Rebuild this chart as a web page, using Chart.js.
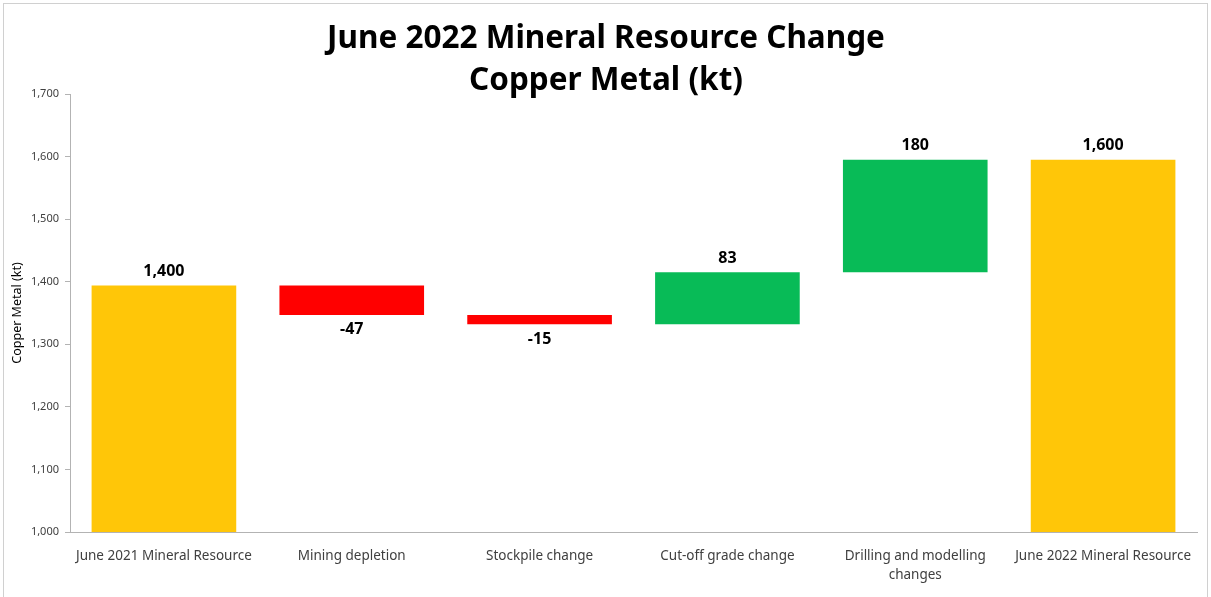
<!DOCTYPE html>
<html>
<head>
<meta charset="utf-8">
<script src="https://cdn.jsdelivr.net/npm/chart.js@4.4.0/dist/chart.umd.min.js"></script>
<style>
  html, body { margin: 0; padding: 0; background: #fff; }
  #wrap { width: 1211px; height: 597px; position: relative; }
</style>
</head>
<body>
<div id="wrap"><canvas id="grafico" width="1211" height="597"></canvas></div>
<script>
// datos del gráfico
const categorias = [
  'June 2021 Mineral Resource',
  'Mining depletion',
  'Stockpile change',
  'Cut-off grade change',
  ['Drilling and modelling', 'changes'],
  'June 2022 Mineral Resource'
];
const inicio = 1394;
const cambios = [-47, -15, 83, 180];
const etiquetas = ['1,400', '-47', '-15', '83', '180', '1,600'];
const ticksY = [1000, 1100, 1200, 1300, 1400, 1500, 1600, 1700];

const DORADO = '#FFC608';
const ROJO = '#FF0000';
const VERDE = '#08BB57';

// construir barras flotantes
const barras = [[1000, inicio]];
const colores = [DORADO];
let acumulado = inicio;
cambios.forEach(function(c) {
  barras.push([acumulado, acumulado + c]);
  colores.push(c < 0 ? ROJO : VERDE);
  acumulado += c;
});
barras.push([1000, acumulado]);
colores.push(DORADO);

const fuente = '"Noto Sans", "Open Sans", sans-serif';

// titulo, borde y etiquetas de valores
const extras = {
  id: 'extras',
  beforeDraw: function(chart) {
    const ctx = chart.ctx;
    ctx.save();
    ctx.strokeStyle = '#d0d0d0';
    ctx.lineWidth = 1;
    ctx.strokeRect(3.5, 3.5, 1204, 620);
    ctx.restore();
  },
  afterDatasetsDraw: function(chart) {
    const ctx = chart.ctx;
    const meta = chart.getDatasetMeta(0);
    ctx.save();
    ctx.fillStyle = '#000';
    ctx.font = 'bold 16px ' + fuente;
    ctx.textAlign = 'center';
    meta.data.forEach(function(bar, i) {
      const d = barras[i];
      const arriba = Math.min(bar.y, bar.base);
      const abajo = Math.max(bar.y, bar.base);
      if (d[1] < d[0]) {
        ctx.textBaseline = 'top';
        ctx.fillText(etiquetas[i], bar.x, abajo + 7);
      } else {
        ctx.textBaseline = 'bottom';
        ctx.fillText(etiquetas[i], bar.x, arriba - 6);
      }
    });
    ctx.restore();

    ctx.save();
    ctx.fillStyle = '#000';
    ctx.font = 'bold 31.5px ' + fuente;
    ctx.textAlign = 'center';
    ctx.textBaseline = 'middle';
    ctx.fillText('June 2022 Mineral Resource Change', 606, 39);
    ctx.fillText('Copper Metal (kt)', 606, 81);
    ctx.restore();
  }
};

const ctx = document.getElementById('grafico').getContext('2d');
new Chart(ctx, {
  type: 'bar',
  data: {
    labels: categorias,
    datasets: [{
      data: barras,
      backgroundColor: colores,
      borderWidth: 0,
      barPercentage: 0.77,
      categoryPercentage: 1
    }]
  },
  options: {
    responsive: false,
    animation: false,
    layout: { padding: { top: 94, right: 14, left: 4, bottom: 0 } },
    plugins: {
      legend: { display: false },
      tooltip: { enabled: false }
    },
    scales: {
      x: {
        grid: { display: false },
        border: { display: true, color: '#b3b3b3' },
        ticks: {
          color: '#404040',
          font: { family: fuente, size: 13.5, lineHeight: 1.45 },
          maxRotation: 0,
          autoSkip: false,
          padding: 6
        },
        afterFit: function(scale) { scale.height = 65; }
      },
      y: {
        min: 1000,
        max: 1700,
        afterBuildTicks: function(scale) {
          scale.ticks = ticksY.map(function(v) { return { value: v }; });
        },
        grid: { drawOnChartArea: false, color: '#b3b3b3', tickLength: 5 },
        border: { display: true, color: '#b3b3b3' },
        ticks: {
          color: '#404040',
          font: { family: fuente, size: 11 },
          padding: 6,
          callback: function(v) { return v.toLocaleString('en-US'); }
        },
        title: {
          display: true,
          text: 'Copper Metal (kt)',
          color: '#000',
          font: { family: fuente, size: 12.5 },
          padding: { top: 6, bottom: 0 }
        },
        afterFit: function(scale) { scale.width = 66; }
      }
    }
  },
  plugins: [extras]
});
</script>
</body>
</html>
